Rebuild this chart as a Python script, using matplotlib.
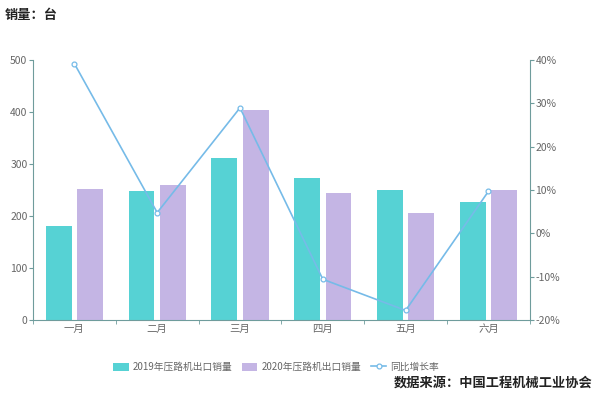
import matplotlib
matplotlib.use('Agg')
import matplotlib.pyplot as plt
import numpy as np

plt.rcParams['font.family'] = ['Noto Sans CJK SC', 'DejaVu Sans']

months = ['一月', '二月', '三月', '四月', '五月', '六月']
sales_2019 = [181, 248, 311, 273, 250, 227]
sales_2020 = [252, 260, 404, 244, 206, 250]
growth = [39.2, 4.8, 29.0, -10.6, -17.8, 9.7]  # %

c19 = '#56d2d4'
c20 = '#c4b5e4'
cline = '#76bbe8'
axcol = '#6f9c9c'
txtcol = '#666666'

fig = plt.figure(figsize=(6, 3.96), dpi=100)
ax = fig.add_axes([0.055, 0.192, 0.828, 0.656])
ax2 = ax.twinx()

x = np.arange(len(months))
w = 0.31
ax.bar(x - 0.19, sales_2019, w, color=c19, label='2019年压路机出口销量', zorder=2)
ax.bar(x + 0.19, sales_2020, w, color=c20, label='2020年压路机出口销量', zorder=2)
ax2.plot(x, growth, color=cline, lw=1.2, marker='o', ms=3.5, mfc='white',
         mec=cline, mew=0.9, label='同比增长率', zorder=3)

ax.set_xlim(-0.5, 5.5)
ax.set_ylim(0, 500)
ax.set_yticks(range(0, 501, 100))
ax2.set_ylim(-20, 40)
ax2.set_yticks(range(-20, 41, 10))
ax2.set_yticklabels([f'{v}%' for v in range(-20, 41, 10)])

ax.set_xticks(x)
ax.set_xticklabels(months)
ax.set_xticks(np.arange(-0.5, 6, 1), minor=True)
ax.tick_params(axis='x', which='major', length=0, labelsize=7.5, colors=txtcol, pad=3)
ax.tick_params(axis='x', which='minor', length=3, color=axcol)
ax.tick_params(axis='y', length=3, color=axcol, labelsize=7.5, labelcolor=txtcol, pad=1)
ax2.tick_params(axis='y', length=3, color=axcol, labelsize=7.5, labelcolor=txtcol, pad=1)

for a in (ax, ax2):
    for s in a.spines.values():
        s.set_visible(False)
ax.spines['left'].set_visible(True)
ax.spines['left'].set_color(axcol)
ax.spines['bottom'].set_visible(True)
ax.spines['bottom'].set_color(axcol)
ax2.spines['right'].set_visible(True)
ax2.spines['right'].set_color(axcol)

h1, l1 = ax.get_legend_handles_labels()
h2, l2 = ax2.get_legend_handles_labels()
fig.legend(h1 + h2, l1 + l2, loc='center', bbox_to_anchor=(0.46, 0.073), ncol=3,
           frameon=False, fontsize=7, handlelength=1.6, handleheight=0.9,
           columnspacing=1.0, handletextpad=0.4, labelcolor=txtcol)

fig.text(0.008, 0.963, '销量：台', fontsize=9.5, fontweight='bold', color='#222222',
         va='center', ha='left')
fig.text(0.987, 0.033, '数据来源：中国工程机械工业协会', fontsize=9.5, fontweight='bold',
         color='#222222', va='center', ha='right')

fig.savefig('out.png', dpi=100)
